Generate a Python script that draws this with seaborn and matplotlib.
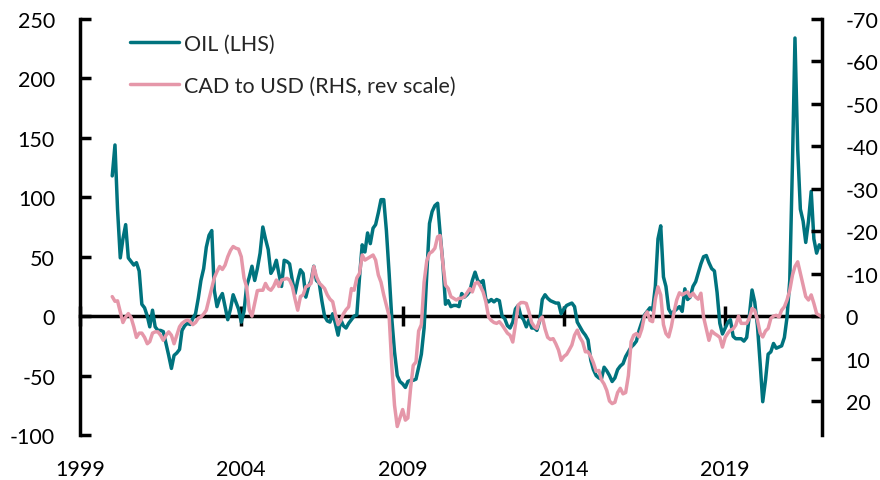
import numpy as np
import pandas as pd
import matplotlib
matplotlib.use("Agg")
import matplotlib.pyplot as plt
import matplotlib.dates as mdates
import seaborn as sns

# Monthly data, Jan 2000 - Jan 2022
start_month = "2000-01-01"

oil = [
    118, 144, 90, 49, 65, 77, 49, 46, 43, 45, 38, 10,
    7, 0, -9, 5, -9, -12, -12, -13, -23, -33, -44, -33,
    -31, -28, -12, -8, -6, -7, -2, 2, 15, 30, 40, 58,
    68, 72, 22, 8, 15, 19, 8, -3, 6, 18, 12, 6,
    -5, 4, 25, 33, 42, 30, 40, 53, 75, 65, 56, 36,
    40, 47, 36, 25, 47, 46, 44, 30, 19, 30, 39, 36,
    16, 25, 30, 42, 30, 28, 13, 0, -4, -5, 2, -6,
    -16, -3, -8, -10, -6, -3, 0, 1, 33, 60, 54, 70,
    61, 74, 77, 87, 98, 98, 72, 36, -3, -30, -50, -55,
    -57, -60, -55, -54, -54, -53, -43, -32, -10, 35, 78, 88,
    93, 95, 70, 45, 10, 13, 8, 9, 9, 8, 19, 16,
    18, 21, 30, 37, 30, 28, 30, 14, 12, 14, 12, 14,
    13, 0, -2, -8, -10, -5, 6, 9, 0, -3, -9, -3,
    -10, -10, -12, -4, 14, 18, 15, 13, 12, 11, 11, 2,
    6, 9, 10, 11, 8, -5, -9, -13, -16, -20, -37, -45,
    -50, -52, -53, -43, -46, -50, -55, -52, -45, -42, -40, -34,
    -30, -26, -24, -21, -12, -5, 1, 4, 7, 5, 25, 65,
    76, 33, 25, 6, 2, 4, 6, 8, 4, 23, 14, 16,
    25, 29, 36, 44, 50, 51, 45, 40, 38, 20, -6, -15,
    -10, -5, -3, -17, -19, -19, -19, -21, -18, 0, 22, 12,
    -8, -40, -72, -54, -32, -30, -23, -27, -26, -25, -18, -1,
    30, 130, 234, 140, 90, 80, 62, 80, 105, 65, 53, 60,
    57,
]

cad = [
    -4.6, -3.5, -3.6, -1, 1.5, 0.2, -0.6, 0.3, 2.5, 5, 4, 4,
    5, 6.5, 6, 4, 3.7, 3.7, 4.5, 5.7, 4.5, 3.7, 4.5, 6.5,
    4.5, 2.5, 1.7, 1.2, 0.9, 1.3, 2, 1.5, 0.5, 0.2, -0.5, -1.4,
    -4, -6.5, -9, -10.5, -11.7, -11, -12, -14, -15.5, -16.4, -16, -15.8,
    -14, -9, -6.9, -1.4, 0, -3, -6, -6.1, -6.1, -7.7, -6.5, -6.1,
    -7, -8.5, -7, -8.5, -8.7, -8.9, -8.5, -7, -4, -1.4, -4.6, -5,
    -6.9, -7.2, -7.7, -11.7, -9.3, -7.8, -7.2, -6.5, -5, -4, -3.4, -0.5,
    2, 1, -0.5, -1.5, -2.2, -6.5, -6.1, -9, -10.1, -14.4, -13.2, -13.6,
    -14, -14.4, -13.2, -9.7, -8, -5, -2.5, 0, 12, 21, 26, 24,
    22, 24.5, 24, 17, 11.6, 10.8, 3.5, 2, -8, -13, -14.8, -15.2,
    -16, -18.7, -19, -12.5, -7.3, -6.5, -4.6, -4.2, -3.8, -4.2, -4.2, -4.6,
    -5.5, -6.5, -5.7, -7.7, -8, -7, -5.7, -3.4, 0.2, 1, 1.5, 1.7,
    1.3, 2.1, 3, 4, 4.5, 6.1, 2, -2.6, -3.2, -3.2, -3, -1,
    1.5, 2.5, 2.9, 0.9, 0.2, 3, 5, 5.5, 5.3, 6.5, 8, 10.4,
    9.5, 9, 8, 6.8, 4.5, 3.3, 5, 6.1, 8.4, 8.4, 9.5, 11,
    13, 12.8, 15, 16, 17.5, 20, 20.6, 20.3, 18, 17, 18.3, 18,
    14, 6, 4.5, 4.1, 4.9, 3, 0, -1, 1, 1.3, -4, -6.9,
    -5, 2, 4.1, 4.9, 2.5, -1, -3.8, -5.5, -5, -5.4, -5.7, -4.6,
    -5.4, -4.5, -4, -5.4, 0.2, 3, 5.7, 3.5, 4.1, 4.5, 5, 7.3,
    5, 4, 3.3, 3, 2.1, 0, 1.7, 1.7, 1.7, 0.5, -1.8, -1.4,
    0.9, 4, 4.9, 3.5, 2.9, 0.5, 0, -0.2, 0.2, -1.4, -2.2, -3.8,
    -6.1, -9.7, -11.7, -12.8, -10.1, -7.3, -4.6, -3.8, -5, -3, -0.6, -0.2,
    0.2,
]

year_ticks = [1999, 2004, 2009, 2014, 2019]
left_ticks = [-100, -50, 0, 50, 100, 150, 200, 250]
right_ticks = [-70, -60, -50, -40, -30, -20, -10, 0, 10, 20]
labels = ["OIL (LHS)", "CAD to USD (RHS, rev scale)"]

dates = pd.date_range(start_month, periods=len(oil), freq="MS")
df = pd.DataFrame({"date": dates, "oil": oil, "cad": cad})

TEAL = "#00737E"
PINK = "#E597A9"

sns.set_style("white")
plt.rcParams["font.family"] = ["Lato", "DejaVu Sans"]
plt.rcParams["axes.unicode_minus"] = False

fig = plt.figure(figsize=(8.8, 4.81), dpi=100)
ax = fig.add_axes([80 / 880, 1 - 436 / 481, 742 / 880, 416 / 481])
ax2 = ax.twinx()

sns.lineplot(data=df, x="date", y="oil", ax=ax, color=TEAL, linewidth=2.5, legend=False)
sns.lineplot(data=df, x="date", y="cad", ax=ax2, color=PINK, linewidth=2.5, legend=False)

ax.set_xlim(pd.Timestamp("1999-01-01"), pd.Timestamp("2022-01-01"))
ax.set_ylim(-100, 250)
ax2.set_ylim(28, -70)

ax.set_yticks(left_ticks)
ax2.set_yticks(right_ticks)
ax.set_xticks([pd.Timestamp(f"{y}-01-01") for y in year_ticks])
ax.xaxis.set_major_formatter(mdates.DateFormatter("%Y"))

for a in (ax, ax2):
    a.set_xlabel("")
    a.set_ylabel("")
    a.spines["top"].set_visible(False)
    a.spines["bottom"].set_visible(False)
    for s in ("left", "right"):
        a.spines[s].set_linewidth(2.5)
        a.spines[s].set_color("black")
ax.spines["right"].set_visible(False)
ax2.spines["left"].set_visible(False)

FS = 15.5
ax.tick_params(axis="y", direction="in", length=8, width=2.5, labelsize=FS,
               pad=18, left=True, right=False, colors="black")
ax2.tick_params(axis="y", direction="in", length=8, width=2.5, labelsize=FS,
                pad=17, right=True, left=False, colors="black")
ax.tick_params(axis="x", length=0, labelsize=FS, pad=17, colors="black")

# zero line with crossing year ticks
zero_frac = (0 - (-100)) / (250 - (-100))
sec = ax.secondary_xaxis(zero_frac)
sec.set_xticks([pd.Timestamp(f"{y}-01-01") for y in year_ticks])
sec.tick_params(axis="x", direction="inout", length=15, width=2.5, labelbottom=False,
                labeltop=False, colors="black")
for s in ("bottom", "top"):
    sec.spines[s].set_linewidth(2.5)
    sec.spines[s].set_color("black")
sec.set_xticklabels([])

h1 = ax.get_lines()[0]
h2 = ax2.get_lines()[0]
ax2.legend([h1, h2], labels, loc="upper left", bbox_to_anchor=(0.056, 0.985),
           frameon=False, fontsize=FS, handlelength=2.25, handletextpad=0.25,
           labelspacing=1.0, borderaxespad=0)

fig.savefig("out.png", dpi=100)
